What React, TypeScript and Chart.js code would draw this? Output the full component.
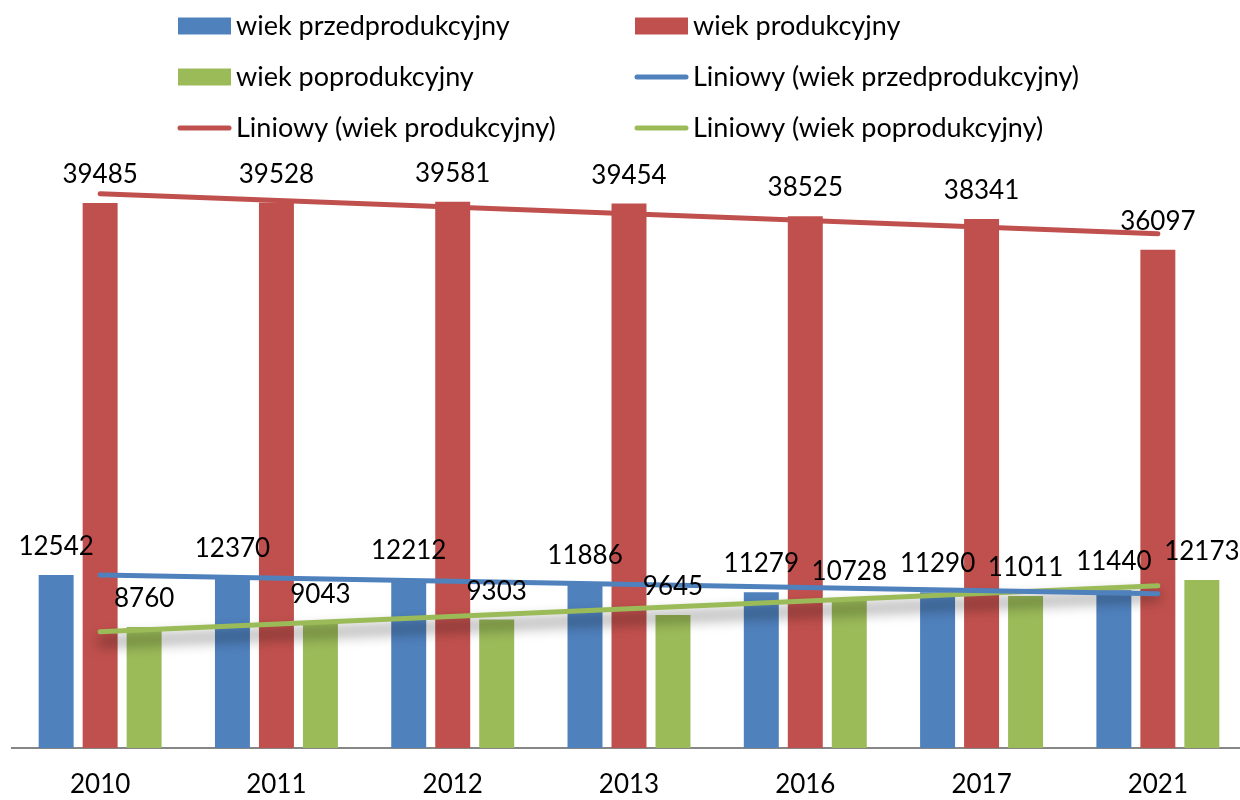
import React, { useEffect, useRef } from "react";
import { Chart, registerables } from "chart.js";

Chart.register(...registerables);

const categories = ["2010", "2011", "2012", "2013", "2016", "2017", "2021"];
const preProductive = [12542, 12370, 12212, 11886, 11279, 11290, 11440];
const productive = [39485, 39528, 39581, 39454, 38525, 38341, 36097];
const postProductive = [8760, 9043, 9303, 9645, 10728, 11011, 12173];
// trendline values read at the first and last category
const trendPreProductive = [12540, 11175];
const trendProductive = [40170, 37260];
const trendPostProductive = [8420, 11765];

const seriesLabels = [
  "wiek przedprodukcyjny",
  "wiek produkcyjny",
  "wiek poprodukcyjny",
  "Liniowy (wiek przedprodukcyjny)",
  "Liniowy (wiek produkcyjny)",
  "Liniowy (wiek poprodukcyjny)",
];

const BLUE = "#4F81BD";
const RED = "#C0504D";
const GREEN = "#9BBB59";
const FONT = "Lato, 'Open Sans', sans-serif";

const trendPoints = (vals: number[]) => [
  { x: categories[0], y: vals[0] },
  { x: categories[categories.length - 1], y: vals[1] },
];

const shadowPlugin = {
  id: "lineShadow",
  beforeDatasetDraw(chart: any, args: any) {
    const ds = chart.data.datasets[args.index];
    if (ds.shadow) {
      const ctx = chart.ctx;
      ctx.save();
      ctx.shadowColor = "rgba(0,0,0,0.65)";
      ctx.shadowBlur = 14;
      ctx.shadowOffsetX = 0;
      ctx.shadowOffsetY = 10;
    }
  },
  afterDatasetDraw(chart: any, args: any) {
    const ds = chart.data.datasets[args.index];
    if (ds.shadow) chart.ctx.restore();
  },
};

const labelPlugin = {
  id: "barValueLabels",
  afterDatasetsDraw(chart: any) {
    const ctx = chart.ctx;
    ctx.save();
    ctx.font = `26px ${FONT}`;
    ctx.fillStyle = "#000";
    ctx.textAlign = "center";
    ctx.textBaseline = "alphabetic";
    chart.data.datasets.forEach((ds: any, i: number) => {
      if (ds.type !== "bar") return;
      const meta = chart.getDatasetMeta(i);
      meta.data.forEach((el: any, j: number) => {
        ctx.fillText(String(ds.data[j]), el.x, el.y - 20);
      });
    });
    ctx.restore();
  },
};

const legendPlugin = {
  id: "gridLegend",
  afterDraw(chart: any) {
    const ctx = chart.ctx;
    const colX = [178, 635];
    const rowY = [26, 77, 128];
    const markerW = 53;
    ctx.save();
    ctx.font = `27px ${FONT}`;
    ctx.textBaseline = "middle";
    ctx.textAlign = "left";
    chart.data.datasets.forEach((ds: any, i: number) => {
      const x = colX[i % 2];
      const y = rowY[Math.floor(i / 2)];
      if (ds.type === "bar") {
        ctx.fillStyle = ds.backgroundColor;
        ctx.fillRect(x, y - 8.5, markerW, 17);
      } else {
        ctx.strokeStyle = ds.borderColor;
        ctx.lineWidth = 5;
        ctx.lineCap = "round";
        ctx.beginPath();
        ctx.moveTo(x + 2, y);
        ctx.lineTo(x + markerW - 2, y);
        ctx.stroke();
      }
      ctx.fillStyle = "#000";
      ctx.fillText(ds.label, x + markerW + 5, y);
    });
    ctx.restore();
  },
};

export default function App() {
  const canvasRef = useRef<HTMLCanvasElement | null>(null);

  useEffect(() => {
    if (!canvasRef.current) return;
    const barCommon = {
      type: "bar" as const,
      categoryPercentage: 0.7486,
      barPercentage: 0.795,
      order: 1,
    };
    const lineCommon = {
      type: "line" as const,
      borderWidth: 5,
      pointRadius: 0,
      borderCapStyle: "round" as const,
      fill: false,
      order: 0,
    };
    const chart = new Chart(canvasRef.current, {
      type: "bar",
      data: {
        labels: categories,
        datasets: [
          { ...barCommon, label: seriesLabels[0], data: preProductive, backgroundColor: BLUE },
          { ...barCommon, label: seriesLabels[1], data: productive, backgroundColor: RED },
          { ...barCommon, label: seriesLabels[2], data: postProductive, backgroundColor: GREEN },
          { ...lineCommon, label: seriesLabels[3], data: trendPoints(trendPreProductive), borderColor: BLUE },
          { ...lineCommon, label: seriesLabels[4], data: trendPoints(trendProductive), borderColor: RED },
          { ...lineCommon, label: seriesLabels[5], data: trendPoints(trendPostProductive), borderColor: GREEN, shadow: true } as any,
        ] as any,
      },
      options: {
        animation: false,
        responsive: false,
        layout: { padding: { top: 127, left: 12, right: 4, bottom: 0 } },
        plugins: {
          legend: { display: false },
          tooltip: { enabled: false },
          title: { display: false },
        },
        scales: {
          x: {
            grid: { display: false, drawTicks: false },
            border: { display: true, color: "#868686", width: 2 },
            ticks: { color: "#000", font: { family: FONT, size: 26 }, padding: 21 },
            afterFit: (scale: any) => {
              scale.height = 52;
            },
          },
          y: {
            display: false,
            min: 0,
            max: 45000,
          },
        },
      },
      plugins: [shadowPlugin, labelPlugin, legendPlugin],
    });
    return () => chart.destroy();
  }, []);

  return (
    <div
      style={{
        position: "fixed",
        left: 0,
        top: 0,
        width: 1240,
        height: 800,
        overflow: "hidden",
        background: "#fff",
      }}
    >
      <canvas ref={canvasRef} width={1250} height={800} style={{ display: "block" }} />
    </div>
  );
}
